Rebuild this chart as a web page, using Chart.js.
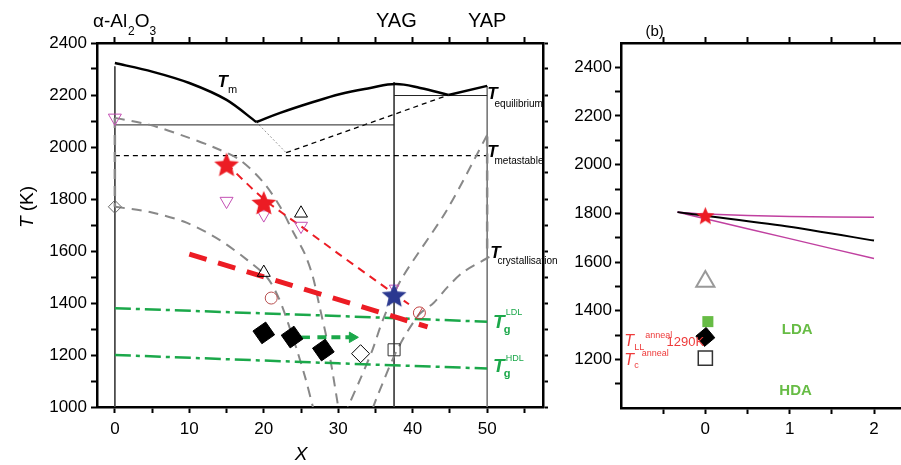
<!DOCTYPE html>
<html>
<head>
<meta charset="utf-8">
<title>Al2O3–Y2O3 undercooling diagram</title>
<script src="https://cdn.jsdelivr.net/npm/chart.js"></script>
<style>
  html, body { margin: 0; padding: 0; background: #fff; }
  #wrap { position: relative; width: 901px; height: 465px; overflow: hidden; }
  canvas { position: absolute; top: 0; }
  #left { left: 0; }
  #right { left: 560px; }
</style>
</head>
<body>
<div id="wrap">
  <canvas id="left" width="560" height="465"></canvas>
  <canvas id="right" width="341" height="465"></canvas>
</div>
<script>
// ---------- panel (a): T against composition X ----------
const xTicks = [0, 5, 10, 15, 20, 25, 30, 35, 40, 45, 50, 55];
const xLabels = [0, 10, 20, 30, 40, 50];
const tTicks = [1000, 1100, 1200, 1300, 1400, 1500, 1600, 1700, 1800, 1900, 2000, 2100, 2200, 2300, 2400];
const tLabels = [1000, 1200, 1400, 1600, 1800, 2000, 2200, 2400];

// liquidus
const tmLeftX = [0, 5, 10, 15, 19];
const tmLeftT = [2323, 2290, 2246, 2181, 2096];
const tmMidX = [19, 22.2, 26.2, 30.3, 34.3, 37.7, 41, 44.8];
const tmMidT = [2096, 2131, 2169, 2204, 2227, 2242, 2227, 2200];
const tmRightX = [44.8, 50];
const tmRightT = [2200, 2235];

// equilibrium / metastable eutectics
const eqLowX = [0, 37.5], eqLowT = [2085, 2085];
const eqHighX = [37.5, 50], eqHighT = [2198, 2198];
const msX = [0, 50], msT = [1967, 1967];
const msDotX = [19, 23], msDotT = [2096, 1978];
const msLiqX = [23, 44.8], msLiqT = [1978, 2200];

// compound walls (Al2O3, YAG, YAP)
const wallX = [0, 37.5, 50];
const wallTop = [2310, 2250, 2235];

// crystallisation curves
const crAX = [0, 4.7, 9.7, 13.2, 16.8, 20, 22.2, 24, 25.5, 26.6, 27.5, 28.4, 29.2, 30];
const crAT = [2112, 2085, 2038, 2000, 1950, 1862, 1770, 1670, 1590, 1500, 1385, 1270, 1140, 1000];
const crBX = [0, 4.7, 9.7, 14.1, 17.8, 20.4, 22, 23.3, 24.5, 25.6, 26.6];
const crBT = [1770, 1750, 1708, 1642, 1565, 1500, 1420, 1320, 1215, 1110, 1000];
const crCX = [50, 44.6, 38.4, 36, 34.6, 33, 31.3];
const crCT = [2046, 1758, 1488, 1335, 1220, 1110, 1000];
const crDX = [50.3, 46.8, 44.7, 42.8, 40.8, 37.9, 35.2, 34.7];
const crDT = [1577, 1519, 1462, 1400, 1354, 1219, 1038, 1000];
const crWall0T = [2112, 1770];
const crWall50T = [2040, 1600];

// liquid-liquid transition lines
const llThinX = [15, 20, 25, 30, 35, 39.5];
const llThinT = [1935, 1800, 1695, 1590, 1487, 1395];
const llThickX = [10, 42];
const llThickT = [1588, 1308];

// glass transitions
const tgX = [0, 30, 50];
const tgLdlT = [1380, 1350, 1328];
const tgHdlT = [1200, 1168, 1148];

// measured points
const starRedX = [15, 20], starRedT = [1932, 1785];
const starBlueX = [37.5], starBlueT = [1430];
const triDownX = [0, 15, 20, 25], triDownT = [2112, 1792, 1740, 1696];
const triDownSmallX = [37.5], triDownSmallT = [1458];
const triUpX = [20, 25], triUpT = [1517, 1745];
const diaGreyX = [0], diaGreyT = [1770];
const circX = [21], circT = [1419];
const circSlashX = [40.9], circSlashT = [1362];
const diaOpenX = [33], diaOpenT = [1205];
const sqOpenX = [37.5], sqOpenT = [1220];
const diaFillX = [20, 23.8, 28], diaFillT = [1285, 1269, 1219];

// arrows between diamonds
const arrowT = [1268, 1268];
const arrowLeftX = [26.2, 23.3], arrowLeftHeadX = [23.4];
const arrowRightX = [27.2, 31.6], arrowRightHeadX = [31.9];

// ---------- panel (b) ----------
const bTicksX = [-0.5, 0, 0.5, 1, 1.5, 2];
const bLabelsX = [0, 1, 2];
const bTicksT = [1100, 1200, 1300, 1400, 1500, 1600, 1700, 1800, 1900, 2000, 2100, 2200, 2300, 2400];
const bLabelsT = [1200, 1400, 1600, 1800, 2000, 2200, 2400];
const bLineX = [-0.33, 0, 1, 2];
const bBlackT = [1805, 1790, 1745, 1688];
const bUpperT = [1805, 1797, 1787, 1784];
const bLowerT = [1805, 1778, 1696, 1614];
const bStarX = [0], bStarT = [1790];
const bTriX = [0], bTriT = [1520];
const bSqGreenX = [0.03], bSqGreenT = [1355];
const bDiaX = [0], bDiaT = [1292];
const bSqOpenX = [0], bSqOpenT = [1205];

const FONT = '"Liberation Sans", Arial, Helvetica, sans-serif';
Chart.defaults.font.family = FONT;
Chart.defaults.color = '#000';

const RED = '#ec1c24', BLUE = '#2b3990', MAGENTA = '#c450b4', GREY = '#888';
const GREEN = '#1ba84a', LGREEN = '#67bc45', RTEXT = '#ee3b3b';

const pts = (xs, ys) => xs.map((x, i) => ({ x, y: ys[i] }));

function line(xs, ys, color, width, dash, tension) {
  return {
    data: pts(xs, ys), showLine: true, pointRadius: 0, pointHoverRadius: 0,
    borderColor: color, borderWidth: width, borderDash: dash || [],
    tension: tension || 0, fill: false, borderCapStyle: 'butt'
  };
}

function marks(xs, ys, style, radius, stroke, fill, bw, rot) {
  return {
    data: pts(xs, ys), showLine: false, pointStyle: style,
    pointRadius: radius, pointHoverRadius: radius,
    pointBorderColor: stroke, pointBackgroundColor: fill,
    pointBorderWidth: bw, pointRotation: rot || 0
  };
}

// filled five-pointed star used as a point sprite
function starSprite(r, color) {
  const c = document.createElement('canvas');
  c.width = c.height = Math.ceil(2 * r + 2);
  const g = c.getContext('2d');
  g.translate(c.width / 2, c.height / 2 + r * 0.08);
  g.beginPath();
  for (let i = 0; i < 10; i++) {
    const rr = i % 2 ? r * 0.45 : r;
    const a = -Math.PI / 2 + i * Math.PI / 5;
    g.lineTo(rr * Math.cos(a), rr * Math.sin(a));
  }
  g.closePath();
  g.fillStyle = color;
  g.fill();
  return c;
}

const NONE = 'rgba(0,0,0,0)';

function rich(ctx, x, y, segs, color) {
  ctx.fillStyle = color || '#000';
  ctx.textAlign = 'left';
  ctx.textBaseline = 'alphabetic';
  let cx = x;
  for (const [t, font, dy = 0, dx = 0] of segs) {
    ctx.font = font;
    cx += dx;
    ctx.fillText(t, cx, y + dy);
    cx += ctx.measureText(t).width;
  }
}

// symbol with subscript and superscript stacked after it
function sym(ctx, x, y, o) {
  ctx.fillStyle = o.color || '#000';
  ctx.textAlign = 'left';
  ctx.textBaseline = 'alphabetic';
  ctx.font = o.font;
  ctx.fillText(o.main, x, y);
  const w = ctx.measureText(o.main).width;
  if (o.sub) { ctx.font = o.subFont; ctx.fillText(o.sub, x + w + (o.subDx || 0), y + o.subDy); }
  if (o.sup) { ctx.font = o.supFont; ctx.fillText(o.sup, x + w + (o.supDx || 0), y + o.supDy); }
}

const f = (style, size) => `${style} ${size}px ${FONT}`;

const edge = { display: true, width: 2.5, color: '#000' };
const tickGrid = len => ({ drawOnChartArea: false, drawTicks: true, tickLength: len, tickWidth: 2, tickColor: '#000' });

function axis(pos, axisId, min, max, ticks, labels, size, len, pad) {
  const horizontal = pos === 'top' || pos === 'bottom';
  return {
    type: 'linear', axis: axisId, position: pos, min, max,
    afterBuildTicks: s => { s.ticks = ticks.map(v => ({ value: v })); },
    afterFit: s => {
      // fixed box size, no overhang padding: keeps the plot frame in place
      if (horizontal) s.height = size; else s.width = size;
      s.paddingLeft = s.paddingRight = s.paddingTop = s.paddingBottom = 0;
    },
    ticks: {
      autoSkip: false, maxRotation: 0, minRotation: 0, padding: pad,
      color: '#000', font: { size: 17 },
      callback: v => (labels.includes(v) ? String(v) : '')
    },
    grid: tickGrid(len),
    border: edge
  };
}

const baseOptions = scales => ({
  responsive: false, animation: false, events: [],
  layout: { padding: 0, autoPadding: false },
  plugins: { legend: { display: false }, tooltip: { enabled: false } },
  scales
});

// ---------- panel (a) chart ----------
const leftText = {
  id: 'leftText',
  afterDraw(chart) {
    const { ctx, scales: { x, y } } = chart;
    const px = v => x.getPixelForValue(v), py = v => y.getPixelForValue(v);
    ctx.save();

    rich(ctx, px(-2.95), 27, [['α-Al', f('', 19)], ['2', f('', 12), 8, 1], ['O', f('', 19)], ['3', f('', 12), 8]]);
    ctx.font = f('', 20);
    ctx.textAlign = 'center';
    ctx.fillText('YAG', px(37.8), 27);
    ctx.fillText('YAP', px(50), 27);

    // axis titles
    ctx.save();
    ctx.translate(33, 207);
    ctx.rotate(-Math.PI / 2);
    ctx.font = f('italic', 19);
    const wT = ctx.measureText('T').width;
    ctx.font = f('', 19);
    const wK = ctx.measureText(' (K)').width;
    ctx.textAlign = 'left';
    ctx.font = f('italic', 19);
    ctx.fillText('T', -(wT + wK) / 2, 0);
    ctx.font = f('', 19);
    ctx.fillText(' (K)', -(wT + wK) / 2 + wT, 0);
    ctx.restore();
    ctx.font = f('italic', 19);
    ctx.textAlign = 'center';
    ctx.fillText('X', px(25), 460);

    const bi = f('italic bold', 17);
    sym(ctx, px(13.8), py(2231), { main: 'T', font: bi, sub: 'm', subFont: f('', 11), subDy: 6, subDx: 0 });
    sym(ctx, px(50.0), py(2185), { main: 'T', font: bi, sub: 'equilibrium', subFont: f('', 10), subDy: 8, subDx: -3 });
    sym(ctx, px(50.0), py(1962), { main: 'T', font: bi, sub: 'metastable', subFont: f('', 10), subDy: 7, subDx: -3 });
    sym(ctx, px(50.4), py(1573), { main: 'T', font: bi, sub: 'crystallisation', subFont: f('', 10), subDy: 6, subDx: -3 });
    const gi = f('italic bold', 19);
    sym(ctx, px(50.8), py(1304), { main: 'T', font: gi, color: GREEN, sub: 'g', subFont: f('bold', 11), subDy: 5, subDx: -1, sup: 'LDL', supFont: f('', 9), supDy: -13, supDx: 1 });
    sym(ctx, px(50.8), py(1135), { main: 'T', font: gi, color: GREEN, sub: 'g', subFont: f('bold', 11), subDy: 5, subDx: -1, sup: 'HDL', supFont: f('', 9), supDy: -11, supDx: 1 });
    ctx.restore();
  }
};

const leftData = [
  // markers on top
  marks(starRedX, starRedT, starSprite(13, RED), 13, RED, RED, 0),
  marks(starBlueX, starBlueT, starSprite(13, BLUE), 13, BLUE, BLUE, 0),
  marks(triDownSmallX, triDownSmallT, 'triangle', 5.5, MAGENTA, NONE, 1, 180),
  marks(diaFillX, diaFillT, 'rectRot', 11, '#000', '#000', 1, 10),
  marks(arrowLeftHeadX, [arrowT[0]], 'triangle', 6, GREEN, GREEN, 1, 270),
  marks(arrowRightHeadX, [arrowT[0]], 'triangle', 6, GREEN, GREEN, 1, 90),
  marks(triDownX, triDownT, 'triangle', 7.5, MAGENTA, NONE, 1, 180),
  marks(triUpX, triUpT, 'triangle', 7.5, '#000', NONE, 1),
  marks(diaGreyX, diaGreyT, 'rectRot', 6.5, '#666', NONE, 1),
  marks(circX, circT, 'circle', 6, '#b85050', NONE, 1),
  marks(circSlashX, circSlashT, 'circle', 6, '#c04040', NONE, 1),
  marks(circSlashX, circSlashT, 'line', 6, '#c04040', NONE, 1, -60),
  marks(diaOpenX, diaOpenT, 'rectRot', 9, '#000', NONE, 1),
  marks(sqOpenX, sqOpenT, 'rect', 8.5, '#333', NONE, 1),
  // arrows
  line(arrowLeftX, arrowT, GREEN, 3.5),
  line(arrowRightX, arrowT, GREEN, 4, [9, 5]),
  // red liquid-liquid lines
  line(llThinX, llThinT, RED, 2, [8, 6], 0.3),
  line(llThickX, llThickT, RED, 5, [18, 12]),
  // glass transitions
  line(tgX, tgLdlT, GREEN, 2.5, [16, 5, 4, 5]),
  line(tgX, tgHdlT, GREEN, 2.5, [16, 5, 4, 5]),
  // crystallisation curves
  line(crAX, crAT, GREY, 2, [10, 7], 0.3),
  line(crBX, crBT, GREY, 2, [10, 7], 0.3),
  line(crCX, crCT, GREY, 2, [10, 7], 0.3),
  line(crDX, crDT, GREY, 2, [10, 7], 0.3),
  line([0, 0], crWall0T, GREY, 2.5, [10, 7]),
  line([50, 50], crWall50T, GREY, 2.5, [10, 7]),
  // phase diagram
  line(tmLeftX, tmLeftT, '#000', 2.5, [], 0.3),
  line(tmMidX, tmMidT, '#000', 2.5, [], 0.4),
  line(tmRightX, tmRightT, '#000', 2.5),
  line(eqLowX, eqLowT, '#222', 1),
  line(eqHighX, eqHighT, '#222', 1),
  line(msX, msT, '#000', 1.3, [5, 4]),
  line(msDotX, msDotT, '#999', 1, [2, 2]),
  line(msLiqX, msLiqT, '#000', 1.3, [5, 4]),
  ...wallX.map((w, i) => line([w, w], [wallTop[i], 1000], i === 2 ? '#777' : '#444', i === 2 ? 1.6 : 1))
];

new Chart(document.getElementById('left'), {
  type: 'scatter',
  data: { datasets: leftData },
  options: baseOptions({
    x: axis('bottom', 'x', -2.4, 57.5, xTicks, xLabels, 58, 6, 6),
    x2: axis('top', 'x', -2.4, 57.5, xTicks, [], 43, 6, 0),
    y: axis('left', 'y', 1000, 2400, tTicks, tLabels, 97, 6, 4),
    y2: axis('right', 'y', 1000, 2400, tTicks, [], 17, 5, 0)
  }),
  plugins: [leftText]
});

// ---------- panel (b) chart ----------
const rightText = {
  id: 'rightText',
  afterDraw(chart) {
    const { ctx, scales: { x, y } } = chart;
    const px = v => x.getPixelForValue(v), py = v => y.getPixelForValue(v);
    ctx.save();
    ctx.font = f('', 15);
    ctx.textAlign = 'left';
    ctx.fillStyle = '#000';
    ctx.fillText('(b)', px(-0.71), 36);

    ctx.font = f('bold', 15);
    ctx.fillStyle = LGREEN;
    ctx.textAlign = 'center';
    ctx.fillText('LDA', px(1.09), py(1305));
    ctx.fillText('HDA', px(1.07), py(1055));

    rich(ctx, px(-0.96), py(1253), [['T', f('italic', 16)], ['LL', f('', 9), 4], ['anneal', f('', 9), -8, 1]], RTEXT);
    rich(ctx, px(-0.46), py(1253), [['1290K', f('', 13)]], RTEXT);
    rich(ctx, px(-0.96), py(1175), [['T', f('italic', 16)], ['c', f('', 9), 3], ['anneal', f('', 9), -9, 3]], RTEXT);
    ctx.restore();
  }
};

const rightData = [
  marks(bStarX, bStarT, starSprite(9.5, RED), 9.5, RED, RED, 0),
  marks(bDiaX, bDiaT, 'rectRot', 9.5, '#000', '#000', 1, 5),
  marks(bSqGreenX, bSqGreenT, 'rect', 7.8, LGREEN, LGREEN, 0),
  marks(bTriX, bTriT, 'triangle', 10.5, '#999', NONE, 2),
  marks(bSqOpenX, bSqOpenT, 'rect', 10, '#333', NONE, 1.5),
  line(bLineX, bBlackT, '#000', 2, [], 0.2),
  line(bLineX, bUpperT, '#c040a0', 1.5, [], 0.2),
  line(bLineX, bLowerT, '#c040a0', 1.5, [], 0.2)
];

new Chart(document.getElementById('right'), {
  type: 'scatter',
  data: { datasets: rightData },
  options: baseOptions({
    x: axis('bottom', 'x', -1, 2.32, bTicksX, bLabelsX, 57, 6, 5),
    x2: axis('top', 'x', -1, 2.32, bTicksX, [], 43, 6, 0),
    y: axis('left', 'y', 1000, 2500, bTicksT, bLabelsT, 61, 6, 3)
  }),
  plugins: [rightText]
});
</script>
</body>
</html>
